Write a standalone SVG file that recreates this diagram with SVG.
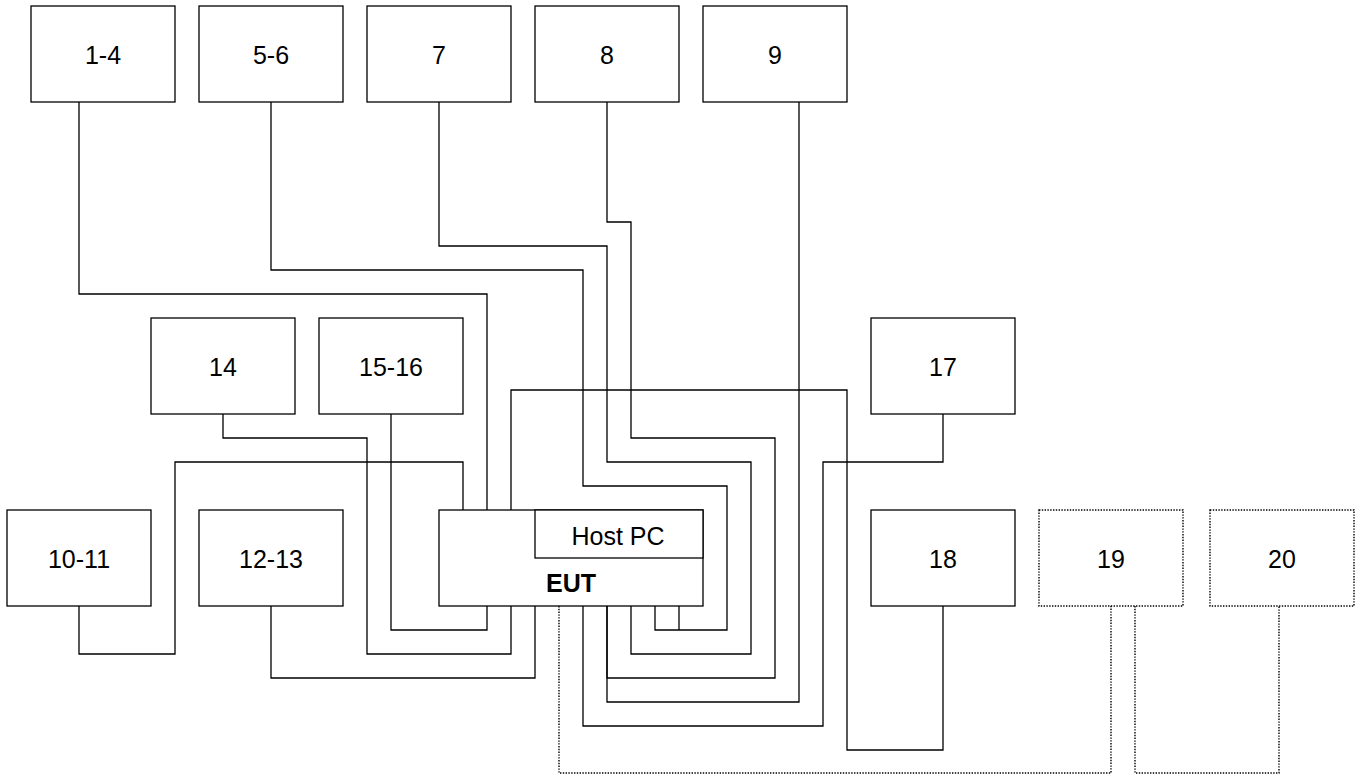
<svg xmlns="http://www.w3.org/2000/svg" width="1363" height="775" viewBox="0 0 1363 775">
<style>
.box{fill:#fff;stroke:#000;stroke-width:1.3}
.dot{fill:#fff;stroke:#000;stroke-width:1.4;stroke-dasharray:1.4 1.4}
.lbl{font-family:"Liberation Sans",Arial,sans-serif;font-size:25px;fill:#000;text-anchor:middle}
.b{font-weight:bold}
.w{fill:none;stroke:#000;stroke-width:1.3}
.wd{fill:none;stroke:#000;stroke-width:1.4;stroke-dasharray:1.4 1.4}
</style>
<rect width="1363" height="775" fill="#fff"/>
<g id="connectors">
<path class="w" d="M79,102V294H487V510"/>
<path class="w" d="M271,102V270H583V486H727V630H655V606M679,606V630"/>
<path class="w" d="M439,102V246H607V462H751V654H631V606"/>
<path class="w" d="M607,102V222H631V438H775V678H607V606"/>
<path class="w" d="M799,102V702H607V606"/>
<path class="w" d="M79,606V654H175V462H463V510"/>
<path class="w" d="M271,606V678H535V606"/>
<path class="w" d="M223,414V438H367V654H511V606"/>
<path class="w" d="M391,414V630H487V606"/>
<path class="w" d="M943,414V462H823V726H583V606"/>
<path class="w" d="M943,606V750H847V390H511V510"/>
<path class="wd" d="M559,606V773H1111V606"/>
<path class="wd" d="M1135,606V773H1279V606"/>
</g>
<g id="n1-4"><rect class="box" x="31" y="6" width="144" height="96"/><text class="lbl" x="103" y="64">1-4</text></g>
<g id="n5-6"><rect class="box" x="199" y="6" width="144" height="96"/><text class="lbl" x="271" y="64">5-6</text></g>
<g id="n7"><rect class="box" x="367" y="6" width="144" height="96"/><text class="lbl" x="439" y="64">7</text></g>
<g id="n8"><rect class="box" x="535" y="6" width="144" height="96"/><text class="lbl" x="607" y="64">8</text></g>
<g id="n9"><rect class="box" x="703" y="6" width="144" height="96"/><text class="lbl" x="775" y="64">9</text></g>
<g id="n14"><rect class="box" x="151" y="318" width="144" height="96"/><text class="lbl" x="223" y="376">14</text></g>
<g id="n15-16"><rect class="box" x="319" y="318" width="144" height="96"/><text class="lbl" x="391" y="376">15-16</text></g>
<g id="n17"><rect class="box" x="871" y="318" width="144" height="96"/><text class="lbl" x="943" y="376">17</text></g>
<g id="n10-11"><rect class="box" x="7" y="510" width="144" height="96"/><text class="lbl" x="79" y="568">10-11</text></g>
<g id="n12-13"><rect class="box" x="199" y="510" width="144" height="96"/><text class="lbl" x="271" y="568">12-13</text></g>
<g id="eut"><rect class="box" x="439" y="510" width="264" height="96"/><rect class="box" x="535" y="510" width="168" height="48"/><text class="lbl" x="618" y="545">Host PC</text><text class="lbl b" x="571" y="592">EUT</text></g>
<g id="n18"><rect class="box" x="871" y="510" width="144" height="96"/><text class="lbl" x="943" y="568">18</text></g>
<g id="n19"><rect class="dot" x="1039" y="510" width="144" height="96"/><text class="lbl" x="1111" y="568">19</text></g>
<g id="n20"><rect class="dot" x="1210" y="510" width="144" height="96"/><text class="lbl" x="1282" y="568">20</text></g>
</svg>
